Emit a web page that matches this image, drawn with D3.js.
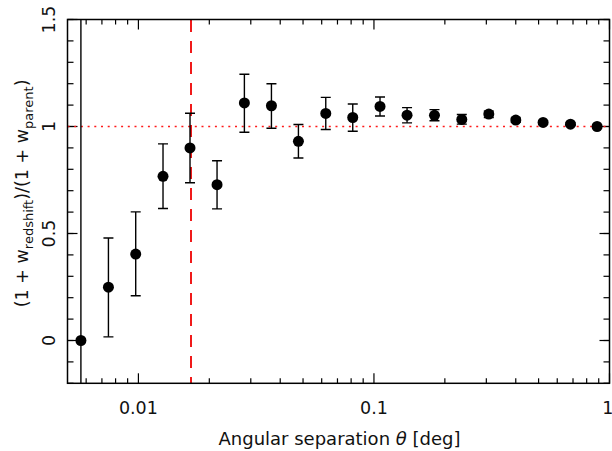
<!DOCTYPE html>
<html>
<head>
<meta charset="utf-8">
<script src="https://cdn.jsdelivr.net/npm/d3@7"></script>
<style>
  body { margin: 0; background: #fff; }
  svg { display: block; font-family: "DejaVu Sans", sans-serif; }
</style>
</head>
<body>
<svg width="612" height="451"></svg>
<script>
// data
const theta = [0.0057, 0.00746, 0.00974, 0.01272, 0.01656, 0.02157, 0.02818, 0.03671, 0.04779, 0.06243,
               0.08128, 0.1061, 0.1382, 0.1807, 0.236, 0.3073, 0.4001, 0.5224, 0.683, 0.8857];
const ratio = [0.0, 0.249, 0.404, 0.767, 0.9, 0.728, 1.11, 1.097, 0.931, 1.061,
               1.042, 1.094, 1.053, 1.052, 1.033, 1.058, 1.03, 1.019, 1.011, 1.0];
const errLo = [5.0, 0.232, 0.195, 0.150, 0.163, 0.113, 0.137, 0.105, 0.078, 0.075,
               0.064, 0.045, 0.036, 0.025, 0.022, 0.016, 0.010, 0.008, 0.006, 0.005];
const errHi = [5.0, 0.230, 0.197, 0.152, 0.162, 0.112, 0.134, 0.103, 0.078, 0.075,
               0.063, 0.044, 0.035, 0.027, 0.023, 0.014, 0.010, 0.008, 0.006, 0.005];
const xTickLabels = [0.01, 0.1, 1];
const yTickLabels = [0, 0.5, 1, 1.5];
const thetaCut = 0.0168;

const svg = d3.select("svg");
const margin = {left: 67.5, right: 2.5, top: 19.5, bottom: 67.7};
const W = 612 - margin.left - margin.right;
const H = 451 - margin.top - margin.bottom;

const x = d3.scaleLog().domain([0.005, 1]).range([0, W]);
const y = d3.scaleLinear().domain([-0.2, 1.5]).range([H, 0]);

const g = svg.append("g").attr("transform", `translate(${margin.left},${margin.top})`);

g.append("clipPath").attr("id", "clip")
  .append("rect").attr("width", W).attr("height", H);

// --- ticks on all four sides, pointing inward ---
const xMinor = [];
[0.001, 0.01, 0.1].forEach(d => { for (let k = 2; k <= 9; k++) xMinor.push(d * k); });
const xMin = xMinor.filter(v => v > 0.005 && v < 1);
const yMinor = d3.range(-2, 16).map(i => i / 10);

const ticks = g.append("g").attr("stroke", "#000").attr("stroke-width", 1.2);
function vt(v, len) {
  ticks.append("line").attr("x1", x(v)).attr("x2", x(v)).attr("y1", H).attr("y2", H - len);
  ticks.append("line").attr("x1", x(v)).attr("x2", x(v)).attr("y1", 0).attr("y2", len);
}
function ht(v, len) {
  ticks.append("line").attr("y1", y(v)).attr("y2", y(v)).attr("x1", 0).attr("x2", len);
  ticks.append("line").attr("y1", y(v)).attr("y2", y(v)).attr("x1", W).attr("x2", W - len);
}
xMin.forEach(v => vt(v, 5));
xTickLabels.forEach(v => vt(v, 10));
yMinor.forEach(v => ht(v, 6));
yTickLabels.forEach(v => ht(v, 10));

// tick labels
g.append("g").selectAll("text").data(xTickLabels).enter().append("text")
  .attr("x", d => x(d)).attr("y", H + 31)
  .attr("text-anchor", d => d === 1 ? "end" : "middle")
  .attr("dx", d => d === 1 ? 4 : 0)
  .attr("font-size", 17.5)
  .attr("fill", "#111")
  .text(d => d);

g.append("g").selectAll("text").data(yTickLabels).enter().append("text")
  .attr("transform", d => `translate(-13,${y(d)}) rotate(-90)`)
  .attr("text-anchor", "middle")
  .attr("font-size", 17.5)
  .attr("fill", "#111")
  .text(d => d);

// reference lines
g.append("line")
  .attr("x1", 0).attr("x2", W).attr("y1", y(1)).attr("y2", y(1))
  .attr("stroke", "#ff1a1a").attr("stroke-width", 1.4).attr("stroke-dasharray", "2,4.7");
// snap the dashed cut line to a pixel column so it stays bright red
const cutX = Math.round(margin.left + x(thetaCut)) - margin.left;
g.append("line")
  .attr("x1", cutX).attr("x2", cutX).attr("y1", 0).attr("y2", H)
  .attr("shape-rendering", "crispEdges")
  .attr("stroke", "#f01a1a").attr("stroke-width", 2).attr("stroke-dasharray", "12,9");

// error bars and points
const pts = theta.map((t, i) => ({t, r: ratio[i], lo: ratio[i] - errLo[i], hi: ratio[i] + errHi[i]}));
const eb = g.append("g").attr("clip-path", "url(#clip)").attr("stroke", "#000").attr("stroke-width", 1.4);
eb.selectAll(".bar").data(pts).enter().append("line")
  .attr("x1", d => x(d.t)).attr("x2", d => x(d.t))
  .attr("y1", d => y(d.lo)).attr("y2", d => y(d.hi));
eb.selectAll(".capt").data(pts.slice(1)).enter().append("line")
  .attr("x1", d => x(d.t) - 5).attr("x2", d => x(d.t) + 5)
  .attr("y1", d => y(d.hi)).attr("y2", d => y(d.hi));
eb.selectAll(".capb").data(pts.slice(1)).enter().append("line")
  .attr("x1", d => x(d.t) - 5).attr("x2", d => x(d.t) + 5)
  .attr("y1", d => y(d.lo)).attr("y2", d => y(d.lo));

g.append("g").selectAll("circle").data(pts).enter().append("circle")
  .attr("cx", d => x(d.t)).attr("cy", d => y(d.r)).attr("r", 5.5).attr("fill", "#000");

// frame
g.append("rect").attr("width", W).attr("height", H)
  .attr("fill", "none").attr("stroke", "#000").attr("stroke-width", 1.5);

// axis titles
const xl = svg.append("text").attr("x", margin.left + W / 2 + 1).attr("y", 445)
  .attr("text-anchor", "middle").attr("font-size", 18)
  .attr("fill", "#111");
xl.append("tspan").text("Angular separation ");
xl.append("tspan").attr("font-style", "italic").text("θ");
xl.append("tspan").text(" [deg]");

const yl = svg.append("text")
  .attr("transform", `translate(28,${margin.top + H / 2 - 8}) rotate(-90)`)
  .attr("text-anchor", "middle").attr("font-size", 17.5)
  .attr("fill", "#111");
yl.append("tspan").text("(1 + w");
yl.append("tspan").attr("dy", 5).attr("font-size", 13).text("redshift");
yl.append("tspan").attr("dy", -5).text(")/(1 + w");
yl.append("tspan").attr("dy", 5).attr("font-size", 13).text("parent");
yl.append("tspan").attr("dy", -5).text(")");
</script>
</body>
</html>
